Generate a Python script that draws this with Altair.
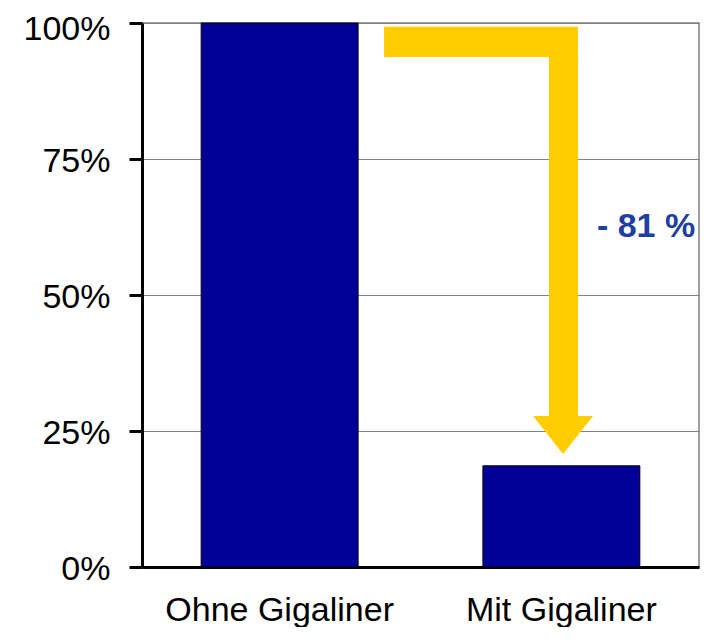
import altair as alt
import pandas as pd

# ---- data ----
categories = ["Ohne Gigaliner", "Mit Gigaliner"]
shares = [100, 18.6]
y_ticks = [0, 25, 50, 75, 100]

# arrow pieces, x in category units (one unit per category slot), y in percent
arrow_h_x = [0.863, 1.554]
arrow_h_y = [93.75, 99.3]
arrow_v_x = [1.451, 1.554]
arrow_v_y = [27.76, 93.9]
head_x = [1.394, 1.501, 1.608]
head_y = [27.76, 20.77, 27.76]
head_base = 27.76

label_text = ["- 81 %"]
label_x = [1.797]
label_y = [62.5]

FONT = "Liberation Sans"
YELLOW = "#FFCC00"
PLOT_W = 557
PLOT_H = 544

bars_df = pd.DataFrame({"cat": categories, "v": shares})
rects_df = pd.DataFrame({
    "x": [arrow_h_x[0], arrow_v_x[0]],
    "x2": [arrow_h_x[1], arrow_v_x[1]],
    "y": [arrow_h_y[0], arrow_v_y[0]],
    "y2": [arrow_h_y[1], arrow_v_y[1]],
})
head_df = pd.DataFrame({"x": head_x, "y": head_y, "y2": [head_base] * 3})
text_df = pd.DataFrame({"t": label_text, "x": label_x, "y": label_y})

yscale = alt.Scale(domain=[0, 100], nice=False)
xq = alt.Scale(domain=[0, 2 * PLOT_W / 561], nice=False, zero=False)

bars = alt.Chart(bars_df).mark_bar(color="#000099", stroke="black", strokeWidth=1).encode(
    x=alt.X("cat:N", sort=categories,
            scale=alt.Scale(paddingInner=0.443, paddingOuter=0.21),
            axis=alt.Axis(title=None, labelAngle=0, ticks=False, tickSize=0, grid=False,
                          domainColor="black", domainWidth=3, labelLimit=0,
                          labelFontSize=34, labelPadding=26, labelColor="black",
                          labelFont=FONT)),
    y=alt.Y("v:Q", scale=yscale,
            axis=alt.Axis(values=y_ticks, labelExpr="datum.value + '%'", title=None,
                          tickSize=13, tickWidth=3, tickColor="black",
                          domainColor="black", domainWidth=3,
                          grid=True, gridColor="#808080", gridWidth=1,
                          labelFontSize=34, labelPadding=19,
                          labelOffset=alt.ConditionalAxisNumber(
                              condition={"test": "datum.value == 100", "value": 6},
                              value=2),
                          labelColor="black", labelFont=FONT)),
)

rects = alt.Chart(rects_df).mark_rect(color=YELLOW).encode(
    x=alt.X("x:Q", scale=xq, axis=None),
    x2="x2:Q",
    y=alt.Y("y:Q", scale=yscale),
    y2="y2:Q",
)

head = alt.Chart(head_df).mark_area(color=YELLOW, opacity=1).encode(
    x=alt.X("x:Q", scale=xq, axis=None),
    y=alt.Y("y:Q", scale=yscale),
    y2="y2:Q",
)

txt = alt.Chart(text_df).mark_text(font=FONT, fontSize=34, fontWeight="bold",
                                   color="#1F3FA0", align="center", baseline="middle").encode(
    x=alt.X("x:Q", scale=xq, axis=None),
    y=alt.Y("y:Q", scale=yscale),
    text="t:N",
)

chart = alt.layer(bars, rects, head, txt).resolve_scale(x="independent").properties(
    width=PLOT_W, height=PLOT_H,
    autosize=alt.AutoSizeParams(type="none"),
    padding={"left": 134, "top": 15, "right": 1, "bottom": 60},
    background="white",
).configure_view(stroke="#808080", strokeWidth=1.5)

chart.save("out.html", embed_options={"renderer": "svg", "actions": False})
